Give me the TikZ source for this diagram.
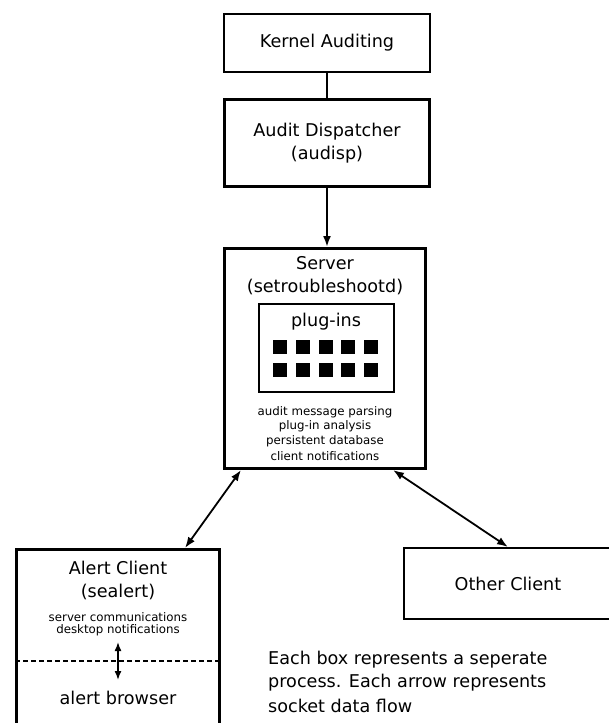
\documentclass[tikz,border=0pt]{standalone}
\usepackage{fontspec}
\setmainfont{DejaVu Sans}
\usetikzlibrary{arrows.meta}
\newcommand\bigtxt{\fontsize{17.6}{23.5}\selectfont}
\newcommand\smalltxt{\fontsize{11.8}{14.7}\selectfont}
\begin{document}
\begin{tikzpicture}[x=1pt,y=-1pt,
  box/.style={draw, inner sep=0pt, align=center, font=\bigtxt},
  lbl/.style={inner sep=0pt, font=\bigtxt},
  sml/.style={inner sep=0pt, font=\smalltxt},
  sq/.style={fill=black, minimum size=14pt, inner sep=0pt},
  oneway/.style={line width=2pt, -{Latex[length=11pt,width=8pt]}},
  conn/.style={line width=1.8pt, {Latex[length=11pt,width=8pt]}-{Latex[length=11pt,width=8pt]}},
  note/.style={inner sep=0pt, anchor=west, font=\bigtxt}]
\useasboundingbox (0,0) rectangle (609,723);
\begin{scope}
\clip (0,0) rectangle (609,723);
% top chain
\node[box, line width=2pt, minimum width=206pt, minimum height=58pt] (kernel) at (327,43) {Kernel Auditing};
\node[box, line width=2.8pt, minimum width=205.2pt, minimum height=87.2pt] (disp) at (327,143) {Audit Dispatcher\\(audisp)};
% server
\node[box, line width=3.4pt, minimum width=200.6pt, minimum height=219.6pt] (server) at (325,358.5) {};
\node[lbl] (srvname) at (325,263) {Server};
\node[lbl] (srvproc) at (325,287) {(setroubleshootd)};
\node[draw, line width=1.7pt, minimum width=135.3pt, minimum height=88.3pt, inner sep=0pt] (plugbox) at (326.5,348) {};
\node[lbl] (pluglbl) at (326,322) {plug-ins};
\foreach \x [count=\i] in {280,303,326,348,371}{
  \foreach \y [count=\j] in {347,370}{
    \node[sq] (sq-\i-\j) at (\x,\y) {};
  }
}
\node[sml] (s1) at (325,412) {audit message parsing};
\node[sml] (s2) at (325,426.5) {plug-in analysis};
\node[sml] (s3) at (325,441) {persistent database};
\node[sml] (s4) at (325,456) {client notifications};
% alert client
\node[box, line width=3.2pt, minimum width=202.8pt, minimum height=200pt] (alert) at (118,649.6) {};
\node[lbl] (aname) at (118,568) {Alert Client};
\node[lbl] (aproc) at (118,592) {(sealert)};
\node[sml] (a1) at (118,617) {server communications};
\node[sml] (a2) at (118,630) {desktop notifications};
\node[lbl] (abrowser) at (118,698) {alert browser};
\coordinate (dashL) at (15,661);
\coordinate (dashR) at (221,661);
\draw[line width=1.2pt, dash pattern=on 5pt off 3pt] (dashL) -- (dashR);
\coordinate (ia) at (118,642);
\coordinate (ib) at (118,680);
\draw[line width=1.5pt, {Latex[length=9pt,width=7pt]}-{Latex[length=9pt,width=7pt]}] (ia) -- (ib);
% other client
\node[box, line width=2pt, minimum width=208pt, minimum height=71pt] (other) at (508,583.5) {Other Client};
% connectors
\draw[line width=1.3pt] (kernel.south) -- (disp.north);
\draw[oneway] (disp.south) -- (disp.south |- server.north);
\draw[conn] ([xshift=18pt]server.south west) -- ([xshift=67pt]alert.north);
\draw[conn] ([xshift=-34pt]server.south east) -- (other.north);
% note
\node[note] (n1) at (268,660) {Each box represents a seperate};
\node[note] (n2) at (268,683) {process. Each arrow represents};
\node[note] (n3) at (268,706) {socket data flow};
\end{scope}
\end{tikzpicture}
\end{document}
